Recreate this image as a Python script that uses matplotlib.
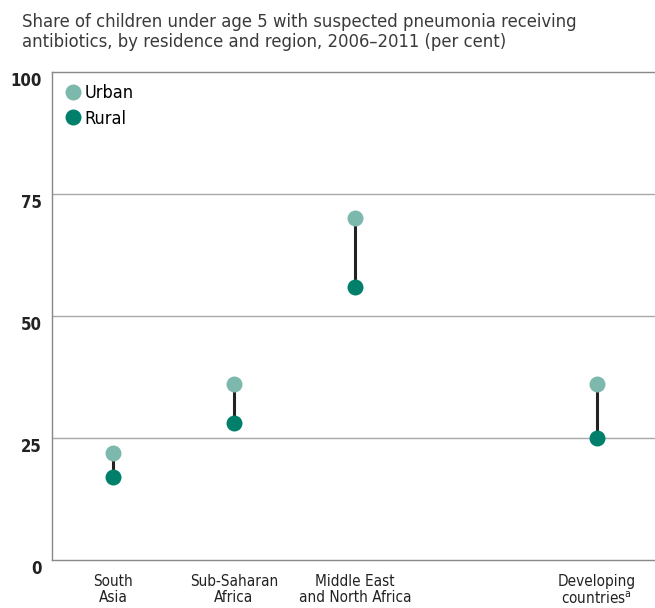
import matplotlib.pyplot as plt
from matplotlib.lines import Line2D

# data
regions = ["South\nAsia", "Sub-Saharan\nAfrica", "Middle East\nand North Africa", "Developing\ncountries$^{\\mathregular{a}}$"]
xpos = [0, 1, 2, 4]
urban = [22, 36, 70, 36]
rural = [17, 28, 56, 25]

c_urban = "#7db8ad"
c_rural = "#00806b"

fig = plt.figure(figsize=(6.55, 6.08), dpi=100)
ax = fig.add_axes([52/655, 1-560/608, 1-52/655, (560-72)/608])

for x, u, r in zip(xpos, urban, rural):
	ax.plot([x, x], [r, u], color="#222222", lw=2.2, zorder=2)
ax.plot(xpos, urban, "o", color=c_urban, ms=11.5, mec="none", zorder=3)
ax.plot(xpos, rural, "o", color=c_rural, ms=11.5, mec="none", zorder=3)

ax.set_xlim(-0.504, 4.48)
ax.set_ylim(0, 100)
ax.set_yticks([0, 25, 50, 75, 100])
ax.set_yticklabels(["0", "25", "50", "75", "100"], fontweight="bold", fontsize=12, fontstretch="condensed", color="#222222")
# labels hang just below their gridlines in the reference
for tick in ax.yaxis.get_major_ticks():
	tick.label1.set_verticalalignment("top")
for y in [25, 50, 75]:
	ax.axhline(y, color="#a8a8a8", lw=1, zorder=1)
ax.tick_params(axis="y", length=0, pad=7.5)
ax.tick_params(axis="x", length=0, pad=10)
ax.set_xticks(xpos)
ax.set_xticklabels(regions, fontsize=11, fontstretch="condensed", linespacing=1.1, color="#222222")
for s in ["left", "bottom", "top"]:
	ax.spines[s].set_color("#888888")
	ax.spines[s].set_linewidth(1)
ax.spines["right"].set_visible(False)

handles = [Line2D([], [], marker="o", ls="none", color=c_urban, ms=11.5, mec="none"),
	Line2D([], [], marker="o", ls="none", color=c_rural, ms=11.5, mec="none")]
ax.legend(handles, ["Urban", "Rural"], loc="upper left", frameon=False, handletextpad=0.05,
	handlelength=1.2, labelspacing=0.42, bbox_to_anchor=(0.0, 1 - 2/488), borderaxespad=0.2, borderpad=0.35,
	prop={"size": 13, "stretch": "condensed"})

fig.text(22/655, 1-13/608, "Share of children under age 5 with suspected pneumonia receiving\nantibiotics, by residence and region, 2006\u20132011 (per cent)",
	ha="left", va="top", fontsize=11.9, color="#3a3a3a", linespacing=1.15)

fig.savefig("out.png", dpi=100)
